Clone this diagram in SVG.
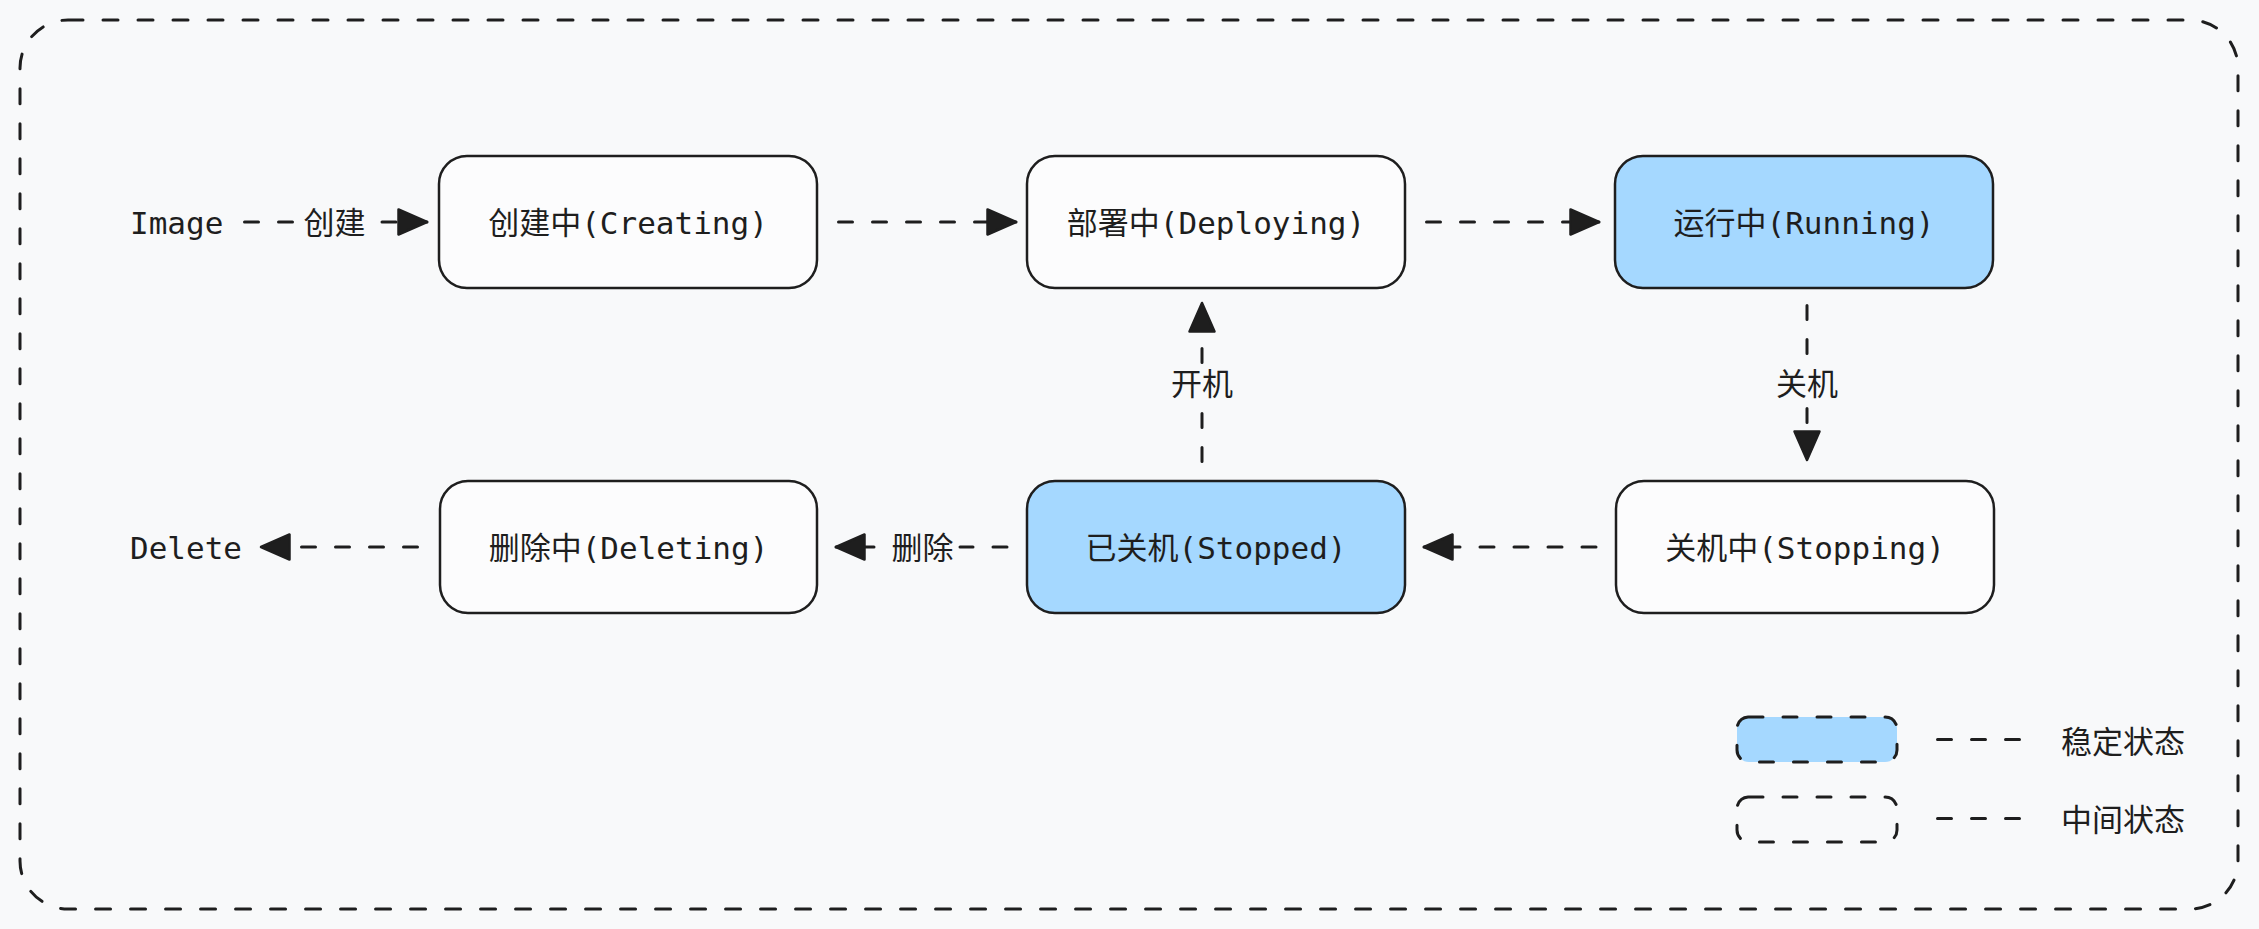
<svg xmlns="http://www.w3.org/2000/svg" width="2259" height="929" viewBox="0 0 2259 929">
  <style>
    .node{stroke:#1e1e1e;stroke-width:2.5;fill:#fcfcfd}
    .stable{fill:#a5d8ff}
    .lbl{font-family:"DejaVu Sans Mono","Liberation Mono","Noto Sans CJK SC",monospace;font-size:31px;fill:#1e1e1e;text-anchor:middle}
    .mono{font-family:"DejaVu Sans Mono","Liberation Mono","Noto Sans CJK SC",monospace;font-size:31px;fill:#1e1e1e}
    .cjk{font-family:"Noto Sans CJK SC",sans-serif;font-size:31px;fill:#1e1e1e;text-anchor:middle}
    .leg{font-family:"Noto Sans CJK SC",sans-serif;font-size:31px;fill:#1e1e1e}
    .edge{fill:none;stroke:#1e1e1e;stroke-width:3;stroke-dasharray:14 20;stroke-linecap:round}
    .frame{fill:none;stroke:#1e1e1e;stroke-width:3;stroke-dasharray:15 20;stroke-linecap:round}
  </style>
  <defs>
    <marker id="ah" markerUnits="userSpaceOnUse" markerWidth="32" markerHeight="30" refX="30" refY="14" orient="auto" overflow="visible">
      <path d="M1.5,1.5 L30,14 L1.5,26.5 Z" fill="#1e1e1e" stroke="#1e1e1e" stroke-width="2.5" stroke-linejoin="round"/>
    </marker>
  </defs>
  <rect x="0" y="0" width="2259" height="929" fill="#f8f9fa"/>
  <rect id="frame" class="frame" x="20" y="20" width="2218" height="889" rx="48" ry="48"/>

  <g id="connectors">
    <path class="edge" d="M244.5 222 H298 M382 222 H427" marker-end="url(#ah)"/>
    <path class="edge" d="M838.5 222 H1016" marker-end="url(#ah)"/>
    <path class="edge" d="M1426.5 222 H1599" marker-end="url(#ah)"/>
    <path class="edge" d="M1807 305.5 V360 M1807 408.5 V460" marker-end="url(#ah)"/>
    <path class="edge" d="M1596 547 H1424" marker-end="url(#ah)"/>
    <path class="edge" d="M1202 461.5 V406 M1202 362.5 V303" marker-end="url(#ah)"/>
    <path class="edge" d="M1007 547 H960 M874 547 H836" marker-end="url(#ah)"/>
    <path class="edge" d="M417.5 547 H261" marker-end="url(#ah)"/>
  </g>

  <g id="edge-labels">
    <text class="cjk" x="334.5" y="233.5">创建</text>
    <text class="cjk" x="1807" y="394.5">关机</text>
    <text class="cjk" x="1202" y="394.5">开机</text>
    <text class="cjk" x="922.5" y="558.5">删除</text>
  </g>

  <g id="image"><text class="mono" x="130" y="233.5">Image</text></g>
  <g id="delete"><text class="mono" x="130" y="558.5">Delete</text></g>

  <g id="creating">
    <rect class="node" x="439" y="156" width="378" height="132" rx="28"/>
    <text class="lbl" x="628" y="233.5">创建中(Creating)</text>
  </g>
  <g id="deploying">
    <rect class="node" x="1027" y="156" width="378" height="132" rx="28"/>
    <text class="lbl" x="1216" y="233.5">部署中(Deploying)</text>
  </g>
  <g id="running">
    <rect class="node stable" x="1615" y="156" width="378" height="132" rx="28"/>
    <text class="lbl" x="1804" y="233.5">运行中(Running)</text>
  </g>
  <g id="stopping">
    <rect class="node" x="1616" y="481" width="378" height="132" rx="28"/>
    <text class="lbl" x="1805" y="558.5">关机中(Stopping)</text>
  </g>
  <g id="stopped">
    <rect class="node stable" x="1027" y="481" width="378" height="132" rx="28"/>
    <text class="lbl" x="1216" y="558.5">已关机(Stopped)</text>
  </g>
  <g id="deleting">
    <rect class="node" x="440" y="481" width="377" height="132" rx="28"/>
    <text class="lbl" x="628.5" y="558.5">删除中(Deleting)</text>
  </g>

  <g id="legend">
    <rect class="edge" style="fill:#a5d8ff" x="1737" y="717" width="160" height="45" rx="12"/>
    <rect class="edge" x="1737" y="797" width="160" height="45" rx="12"/>
    <path class="edge" d="M1937.5 739.5 H2020 M1937.5 818.5 H2020"/>
    <text class="leg" x="2061" y="752.5">稳定状态</text>
    <text class="leg" x="2061" y="830.5">中间状态</text>
  </g>
</svg>
